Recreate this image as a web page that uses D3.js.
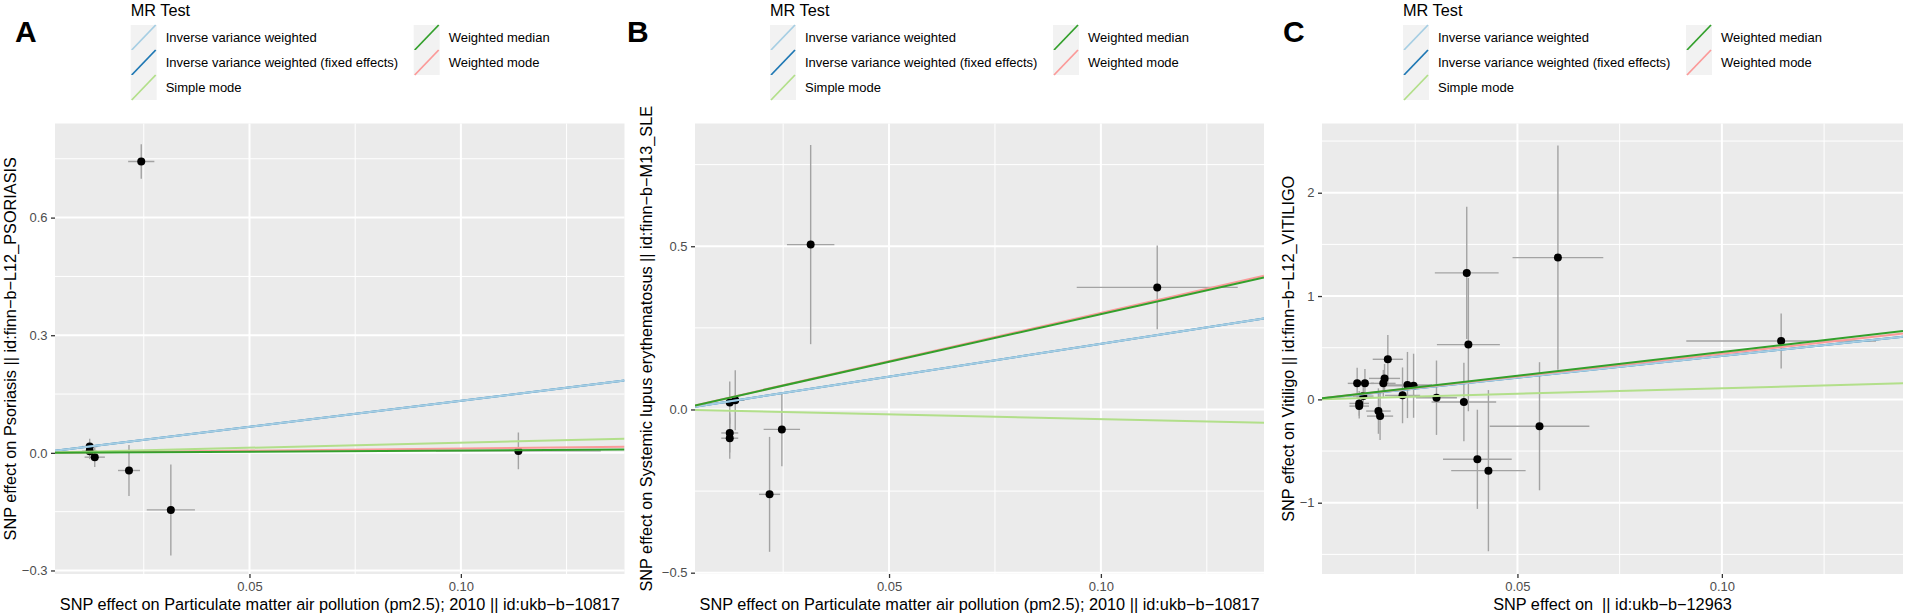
<!DOCTYPE html>
<html>
<head>
<meta charset="utf-8">
<script src="https://cdn.jsdelivr.net/npm/d3@7"></script>
<style>
  body { margin: 0; background: #fff; }
  svg { display: block; }
  text { font-family: "Liberation Sans", Arial, sans-serif; }
</style>
</head>
<body>
<script>
var svgWidth = 1905,
    svgHeight = 616,
    plotTop = 123.5,
    plotBottom = 574;

var methods = ["Inverse variance weighted", "Inverse variance weighted (fixed effects)",
               "Simple mode", "Weighted median", "Weighted mode"];
var methodColors = ["#a6cee3", "#1f78b4", "#b2df8a", "#33a02c", "#fb9a99"];
var lineOrder = [1, 0, 4, 2, 3]; // median ends up on top

var xTicks = [0.05, 0.10],
    xMinor = [0.025, 0.075, 0.125];

// A: pm2.5 -> psoriasis
var aX    = [0.0122, 0.0122, 0.0134, 0.0215, 0.0244, 0.0314, 0.1136],
    aXse  = [0.0018, 0.0018, 0.0024, 0.0026, 0.0031, 0.0057, 0.0195],
    aY    = [0.016, 0.004, -0.011, -0.045, 0.743, -0.1455, 0.005],
    aYse  = [0.020, 0.020, 0.025, 0.065, 0.044, 0.116, 0.047],
    aSlopes = [1.33, 1.33, 0.26, 0.06, 0.11],
    aXLim = [0.0040, 0.1387],
    aYLim = [-0.309, 0.840],
    aYTicks = [-0.3, 0, 0.3, 0.6],
    aYMinor = [-0.15, 0.15, 0.45, 0.75];

// B: pm2.5 -> SLE
var bX    = [0.0124, 0.0124, 0.0124, 0.0137, 0.0218, 0.0247, 0.0315, 0.1133],
    bXse  = [0.0018, 0.0020, 0.0020, 0.0022, 0.0025, 0.0043, 0.0056, 0.0190],
    bY    = [0.021, -0.072, -0.088, 0.028, -0.260, -0.061, 0.505, 0.374],
    bYse  = [0.065, 0.060, 0.063, 0.092, 0.176, 0.113, 0.305, 0.128],
    bSlopes = [2.01, 2.01, -0.296, 2.92, 2.96],
    bXLim = [0.0042, 0.1385],
    bYLim = [-0.504, 0.876],
    bYTicks = [-0.5, 0, 0.5],
    bYMinor = [-0.25, 0.25, 0.75];

// C: ukb-b-12963 -> vitiligo
var cX    = [0.0108, 0.0127, 0.0172, 0.0175, 0.0183, 0.0231, 0.0246, 0.0123, 0.0113, 0.0113,
             0.0219, 0.0160, 0.0164, 0.0302, 0.0369, 0.0380, 0.0554, 0.0402, 0.0376, 0.0599,
             0.1145, 0.0429],
    cXse  = [0.0023, 0.0022, 0.0030, 0.0038, 0.0037, 0.0060, 0.0070, 0.0025, 0.0024, 0.0024,
             0.0043, 0.0030, 0.0032, 0.0050, 0.0079, 0.0077, 0.0122, 0.0084, 0.0078, 0.0111,
             0.0232, 0.0091],
    cY    = [0.155, 0.155, 0.155, 0.203, 0.388, 0.139, 0.132, 0.032, -0.039, -0.065,
             0.039, -0.113, -0.162, 0.016, -0.026, 0.530, -0.260, -0.580, 1.224, 1.372,
             0.565, -0.690],
    cYse  = [0.15, 0.14, 0.13, 0.14, 0.235, 0.32, 0.31, 0.10, 0.12, 0.12,
             0.27, 0.22, 0.23, 0.36, 0.38, 0.645, 0.62, 0.48, 0.64, 1.085,
             0.265, 0.78],
    cSlopes = [4.20, 4.20, 1.08, 4.58, 4.42],
    cXLim = [0.0022, 0.1443],
    cYLim = [-1.69, 2.67],
    cYTicks = [-1, 0, 1, 2],
    cYMinor = [-1.5, -0.5, 0.5, 1.5, 2.5];

var svg = d3.select("body").append("svg")
    .attr("width", svgWidth)
    .attr("height", svgHeight);

var minus = function(s) { return s.replace("-", "\u2212"); };

function drawPanel(p) {
    var x = d3.scaleLinear().domain(p.xLim).range([p.left, p.right]);
    var y = d3.scaleLinear().domain(p.yLim).range([plotBottom, plotTop]);
    var g = svg.append("g");

    g.append("rect")
        .attr("x", p.left).attr("y", plotTop)
        .attr("width", p.right - p.left).attr("height", plotBottom - plotTop)
        .style("fill", "#ebebeb");

    // grid
    g.selectAll(".vminor").data(xMinor).enter().append("line")
        .attr("x1", function(d) { return x(d); }).attr("x2", function(d) { return x(d); })
        .attr("y1", plotTop).attr("y2", plotBottom)
        .style("stroke", "#fff").style("stroke-width", 1);
    g.selectAll(".hminor").data(p.yMinor).enter().append("line")
        .attr("x1", p.left).attr("x2", p.right)
        .attr("y1", function(d) { return y(d); }).attr("y2", function(d) { return y(d); })
        .style("stroke", "#fff").style("stroke-width", 1);
    g.selectAll(".vmajor").data(xTicks).enter().append("line")
        .attr("x1", function(d) { return x(d); }).attr("x2", function(d) { return x(d); })
        .attr("y1", plotTop).attr("y2", plotBottom)
        .style("stroke", "#fff").style("stroke-width", 2);
    g.selectAll(".hmajor").data(p.yTicks).enter().append("line")
        .attr("x1", p.left).attr("x2", p.right)
        .attr("y1", function(d) { return y(d); }).attr("y2", function(d) { return y(d); })
        .style("stroke", "#fff").style("stroke-width", 2);

    var pts = p.bx.map(function(v, i) {
        return { bx: v, bxse: p.bxse[i], by: p.by[i], byse: p.byse[i] };
    });

    var clipId = "clip-" + p.name;
    svg.append("clipPath").attr("id", clipId).append("rect")
        .attr("x", p.left).attr("y", plotTop)
        .attr("width", p.right - p.left).attr("height", plotBottom - plotTop);

    var inner = g.append("g").attr("clip-path", "url(#" + clipId + ")");

    inner.selectAll(".ev").data(pts).enter().append("line")
        .attr("x1", function(d) { return x(d.bx); }).attr("x2", function(d) { return x(d.bx); })
        .attr("y1", function(d) { return y(d.by - d.byse); })
        .attr("y2", function(d) { return y(d.by + d.byse); })
        .style("stroke", "#a3a3a3").style("stroke-width", 1.4);
    inner.selectAll(".eh").data(pts).enter().append("line")
        .attr("x1", function(d) { return x(d.bx - d.bxse); })
        .attr("x2", function(d) { return x(d.bx + d.bxse); })
        .attr("y1", function(d) { return y(d.by); }).attr("y2", function(d) { return y(d.by); })
        .style("stroke", "#a3a3a3").style("stroke-width", 1.4);
    inner.selectAll("circle").data(pts).enter().append("circle")
        .attr("cx", function(d) { return x(d.bx); })
        .attr("cy", function(d) { return y(d.by); })
        .attr("r", 4)
        .style("fill", "#000");

    inner.selectAll(".fit").data(lineOrder).enter().append("line")
        .attr("x1", x(p.xLim[0])).attr("x2", x(p.xLim[1]))
        .attr("y1", function(k) { return y(p.slopes[k] * p.xLim[0]); })
        .attr("y2", function(k) { return y(p.slopes[k] * p.xLim[1]); })
        .style("stroke", function(k) { return methodColors[k]; })
        .style("stroke-width", 2);

    // axes
    var ax = g.append("g").attr("transform", "translate(0," + plotBottom + ")")
        .call(d3.axisBottom(x).tickValues(xTicks).tickSize(4).tickPadding(4)
            .tickFormat(d3.format(".2f")));
    var ay = g.append("g").attr("transform", "translate(" + p.left + ",0)")
        .call(d3.axisLeft(y).tickValues(p.yTicks).tickSize(4).tickPadding(3.5)
            .tickFormat(function(d) { return minus(d3.format(p.yFmt)(d)); }));
    [ax, ay].forEach(function(a) {
        a.select(".domain").remove();
        a.selectAll(".tick line").style("stroke", "#333").style("stroke-width", 1.3);
        a.selectAll(".tick text").style("fill", "#4d4d4d").style("font-size", "13px")
            .style("font-family", "'Liberation Sans', Arial, sans-serif");
    });

    g.append("text")
        .attr("x", (p.left + p.right) / 2).attr("y", 610)
        .attr("text-anchor", "middle")
        .style("font-size", "16.3px").style("white-space", "pre")
        .text(p.xTitle);
    g.append("text")
        .attr("transform", "translate(" + p.yTitleX + "," + ((plotTop + plotBottom) / 2) + ") rotate(-90)")
        .attr("text-anchor", "middle")
        .style("font-size", "16.3px")
        .text(p.yTitle);

    // panel letter
    g.append("text")
        .attr("x", p.letterX).attr("y", 42)
        .style("font-size", "30px").style("font-weight", "bold")
        .text(p.letter);

    // legend
    var L = p.legendX;
    g.append("text").attr("x", L).attr("y", 15.5)
        .style("font-size", "16.3px").text("MR Test");
    var keys = methods.map(function(m, i) {
        return { name: m, color: methodColors[i], col: i < 3 ? 0 : 1, row: i < 3 ? i : i - 3 };
    });
    var kg = g.selectAll(".key").data(keys).enter().append("g")
        .attr("transform", function(d) { return "translate(" + (L + d.col * 283) + "," + (25 + d.row * 25) + ")"; });
    kg.append("rect").attr("width", 26).attr("height", 25).style("fill", "#f2f2f2");
    kg.append("line")
        .attr("x1", 1).attr("y1", 25).attr("x2", 25).attr("y2", 0)
        .style("stroke", function(d) { return d.color; }).style("stroke-width", 1.8);
    kg.append("text").attr("x", 35).attr("y", 17)
        .style("font-size", "13px")
        .text(function(d) { return d.name; });
}

drawPanel({
    name: "A", letter: "A", bx: aX, bxse: aXse, by: aY, byse: aYse, slopes: aSlopes,
    xLim: aXLim, yLim: aYLim, yTicks: aYTicks, yMinor: aYMinor, yFmt: ".1f",
    left: 55, right: 624.5, letterX: 15, legendX: 130.7, yTitleX: 16.2,
    xTitle: "SNP effect on Particulate matter air pollution (pm2.5); 2010 || id:ukb\u2212b\u221210817",
    yTitle: "SNP effect on Psoriasis || id:finn\u2212b\u2212L12_PSORIASIS"
});
drawPanel({
    name: "B", letter: "B", bx: bX, bxse: bXse, by: bY, byse: bYse, slopes: bSlopes,
    xLim: bXLim, yLim: bYLim, yTicks: bYTicks, yMinor: bYMinor, yFmt: ".1f",
    left: 695, right: 1264, letterX: 627, legendX: 770, yTitleX: 652,
    xTitle: "SNP effect on Particulate matter air pollution (pm2.5); 2010 || id:ukb\u2212b\u221210817",
    yTitle: "SNP effect on Systemic lupus erythematosus || id:finn\u2212b\u2212M13_SLE"
});
drawPanel({
    name: "C", letter: "C", bx: cX, bxse: cXse, by: cY, byse: cYse, slopes: cSlopes,
    xLim: cXLim, yLim: cYLim, yTicks: cYTicks, yMinor: cYMinor, yFmt: "d",
    left: 1322, right: 1903, letterX: 1283, legendX: 1403, yTitleX: 1294,
    xTitle: "SNP effect on  || id:ukb\u2212b\u221212963",
    yTitle: "SNP effect on Vitiligo || id:finn\u2212b\u2212L12_VITILIGO"
});
</script>
</body>
</html>
